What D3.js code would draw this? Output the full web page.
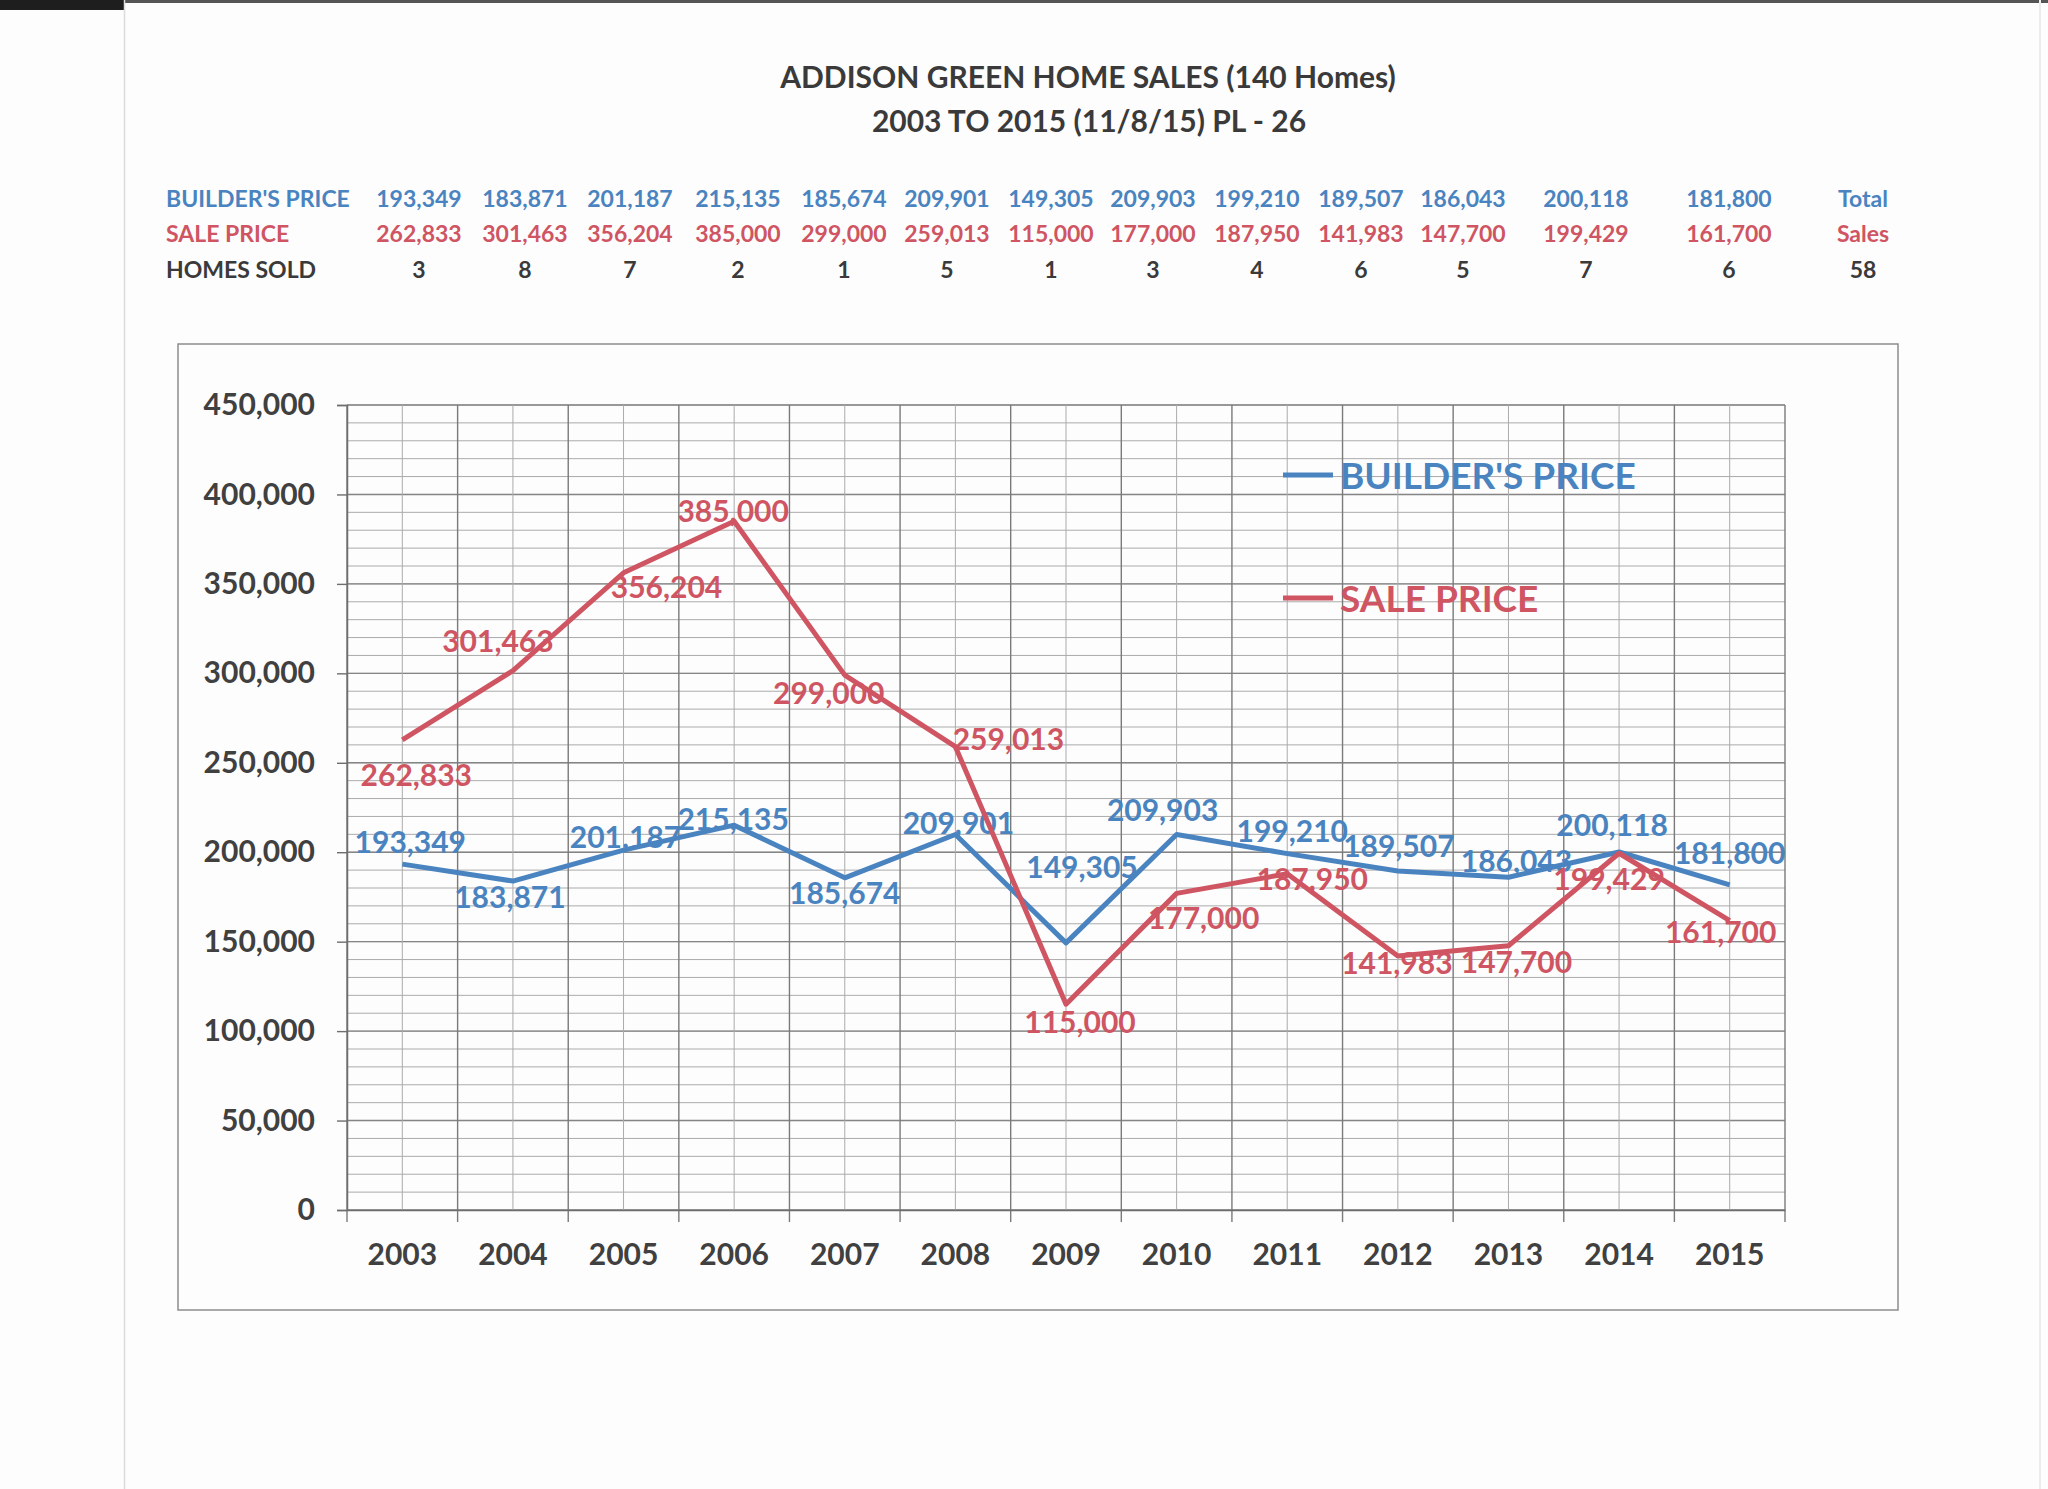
<!DOCTYPE html>
<html>
<head>
<meta charset="utf-8">
<script src="https://cdn.jsdelivr.net/npm/d3@7"></script>
<style>
  html, body { margin: 0; padding: 0; background: #fdfdfd; }
  svg { display: block; font-family: Lato, "Open Sans", sans-serif; }
</style>
</head>
<body>
<div id="chart"></div>
<script>
// values
var years = ["2003","2004","2005","2006","2007","2008","2009","2010","2011","2012","2013","2014","2015"];
var builderPrice = [193349,183871,201187,215135,185674,209901,149305,209903,199210,189507,186043,200118,181800];
var salePrice = [262833,301463,356204,385000,299000,259013,115000,177000,187950,141983,147700,199429,161700];
var homesSold = [3,8,7,2,1,5,1,3,4,6,5,7,6];
var totalSold = 58;
var yTicks = [0,50000,100000,150000,200000,250000,300000,350000,400000,450000];

// layout only (label nudges in px, header table column centres)
var builderLabelNudge = [[8,-11],[-3,27],[2,-2],[-1,5],[0,26],[3,-1],[16,-65],[-14,-14],[5,-12],[1,-14],[8,-5],[-7,-16],[0,-21]];
var saleLabelNudge = [[14,46],[-15,-19],[43,25],[-1,1],[-16,29],[53,3],[14,29],[27,36],[25,16],[-1,18],[8,27],[-10,37],[-9,22]];
var headerCols = [419,525,630,738,844,947,1051,1153,1257,1361,1463,1586,1729];
var totalCol = 1863;

var blue = "#4a84c0", red = "#cf5563", ink = "#3a3a3a";
var W = 2048, H = 1489;
var fmt = d3.format(",");

var svg = d3.select("#chart").append("svg")
	.attr("width", W)
	.attr("height", H);

// paper / scan edges
svg.append("rect").attr("x", 0).attr("y", 0).attr("width", W).attr("height", H).attr("fill", "#fdfdfd");
svg.append("rect").attr("x", 0).attr("y", 0).attr("width", 124).attr("height", 10).attr("fill", "#1e1e1e");
svg.append("rect").attr("x", 124).attr("y", 0).attr("width", W - 124).attr("height", 3).attr("fill", "#555");
svg.append("line").attr("x1", 124.5).attr("x2", 124.5).attr("y1", 0).attr("y2", H)
	.attr("stroke", "#dcdcdc").attr("stroke-width", 1.5);
svg.append("line").attr("x1", 2040).attr("x2", 2040).attr("y1", 0).attr("y2", H)
	.attr("stroke", "#ececec").attr("stroke-width", 2);

// title
svg.append("text").attr("x", 1088).attr("y", 88).attr("text-anchor", "middle")
	.attr("font-size", 30).attr("font-weight", 700).attr("fill", ink)
	.text("ADDISON GREEN HOME SALES (140 Homes)");
svg.append("text").attr("x", 1089).attr("y", 132).attr("text-anchor", "middle")
	.attr("font-size", 30).attr("font-weight", 700).attr("fill", ink)
	.text("2003 TO 2015 (11/8/15) PL - 26");

// header table
var rows = [
	{label: "BUILDER'S PRICE", color: blue, values: builderPrice.map(fmt), tail: "Total", y: 207},
	{label: "SALE PRICE", color: red, values: salePrice.map(fmt), tail: "Sales", y: 242},
	{label: "HOMES SOLD", color: ink, values: homesSold.map(String), tail: String(totalSold), y: 278}
];
var table = svg.append("g").attr("class", "table")
	.attr("font-size", 23).attr("font-weight", 700);
rows.forEach(function (r) {
	var g = table.append("g").attr("fill", r.color);
	g.append("text").attr("x", 166).attr("y", r.y).text(r.label);
	g.selectAll("text.v").data(r.values).enter().append("text")
		.attr("class", "v")
		.attr("x", function (d, i) { return headerCols[i]; })
		.attr("y", r.y)
		.attr("text-anchor", "middle")
		.text(function (d) { return d; });
	g.append("text").attr("x", totalCol).attr("y", r.y).attr("text-anchor", "middle").text(r.tail);
});

// chart area frame
svg.append("rect").attr("x", 178).attr("y", 344).attr("width", 1720).attr("height", 966)
	.attr("fill", "none").attr("stroke", "#8c8c8c").attr("stroke-width", 1.5);

var x = d3.scaleBand().domain(years).range([347, 1785]);
var y = d3.scaleLinear().domain([0, 450000]).range([1210, 405]);
var bw = x.bandwidth();
var cx = function (d) { return x(d) + bw / 2; };

// horizontal grid: minor every 10,000, major every 50,000
var grid = svg.append("g").attr("class", "grid");
grid.selectAll("line.minor").data(y.ticks(45)).enter().append("line")
	.attr("x1", 347).attr("x2", 1785)
	.attr("y1", function (d) { return y(d); }).attr("y2", function (d) { return y(d); })
	.attr("stroke", "#ababab").attr("stroke-width", 1);
grid.selectAll("line.major").data(yTicks).enter().append("line")
	.attr("x1", 347).attr("x2", 1785)
	.attr("y1", function (d) { return y(d); }).attr("y2", function (d) { return y(d); })
	.attr("stroke", "#858585").attr("stroke-width", 1.4);
// vertical grid: category centres lighter, boundaries darker
grid.selectAll("line.vc").data(years).enter().append("line")
	.attr("x1", cx).attr("x2", cx).attr("y1", 405).attr("y2", 1210)
	.attr("stroke", "#ababab").attr("stroke-width", 1);
grid.selectAll("line.vb").data(years.concat(["end"])).enter().append("line")
	.attr("x1", function (d, i) { return 347 + i * bw; })
	.attr("x2", function (d, i) { return 347 + i * bw; })
	.attr("y1", 405).attr("y2", 1222)
	.attr("stroke", "#7a7a7a").attr("stroke-width", 1.4);

// y axis
var yAxis = svg.append("g").attr("transform", "translate(347,0)")
	.call(d3.axisLeft(y).tickValues(yTicks).tickFormat(fmt).tickSize(10).tickPadding(22));
yAxis.select(".domain").attr("stroke", "#6e6e6e").attr("stroke-width", 1.5);
yAxis.selectAll(".tick line").attr("stroke", "#6e6e6e").attr("stroke-width", 1.4);
yAxis.selectAll(".tick text").attr("font-size", 30).attr("font-weight", 700)
	.attr("fill", "#404040").attr("font-family", "Lato, sans-serif");

// x axis
var xAxis = svg.append("g").attr("transform", "translate(0,1210)")
	.call(d3.axisBottom(x).tickSize(0).tickPadding(34));
xAxis.select(".domain").attr("stroke", "#6e6e6e").attr("stroke-width", 1.6);
xAxis.selectAll(".tick text").attr("font-size", 30).attr("font-weight", 700)
	.attr("fill", "#404040").attr("font-family", "Lato, sans-serif");

// series
var line = d3.line().x(function (d) { return cx(d.year); }).y(function (d) { return y(d.v); });
var series = [
	{name: "BUILDER'S PRICE", color: blue, values: builderPrice, nudge: builderLabelNudge},
	{name: "SALE PRICE", color: red, values: salePrice, nudge: saleLabelNudge}
];
series.forEach(function (s) {
	var pts = s.values.map(function (v, i) { return {year: years[i], v: v}; });
	svg.append("path").datum(pts)
		.attr("d", line)
		.attr("fill", "none")
		.attr("stroke", s.color)
		.attr("stroke-width", 5)
		.attr("stroke-linejoin", "round");
	svg.append("g").selectAll("text").data(pts).enter().append("text")
		.attr("x", function (d, i) { return cx(d.year) + s.nudge[i][0]; })
		.attr("y", function (d, i) { return y(d.v) + s.nudge[i][1]; })
		.attr("text-anchor", "middle")
		.attr("font-size", 30).attr("font-weight", 700)
		.attr("fill", s.color)
		.text(function (d) { return fmt(d.v); });
});

// legend inside the plot
var legend = svg.append("g").attr("class", "legend");
legend.selectAll("g").data(series).enter().append("g")
	.attr("transform", function (d, i) { return "translate(1283," + (475 + i * 123) + ")"; })
	.each(function (d) {
		var g = d3.select(this);
		g.append("line").attr("x1", 0).attr("x2", 50).attr("y1", 0).attr("y2", 0)
			.attr("stroke", d.color).attr("stroke-width", 5);
		g.append("text").attr("x", 57).attr("y", 14)
			.attr("font-size", 37).attr("font-weight", 700)
			.attr("fill", d.color).text(d.name);
	});
</script>
</body>
</html>
